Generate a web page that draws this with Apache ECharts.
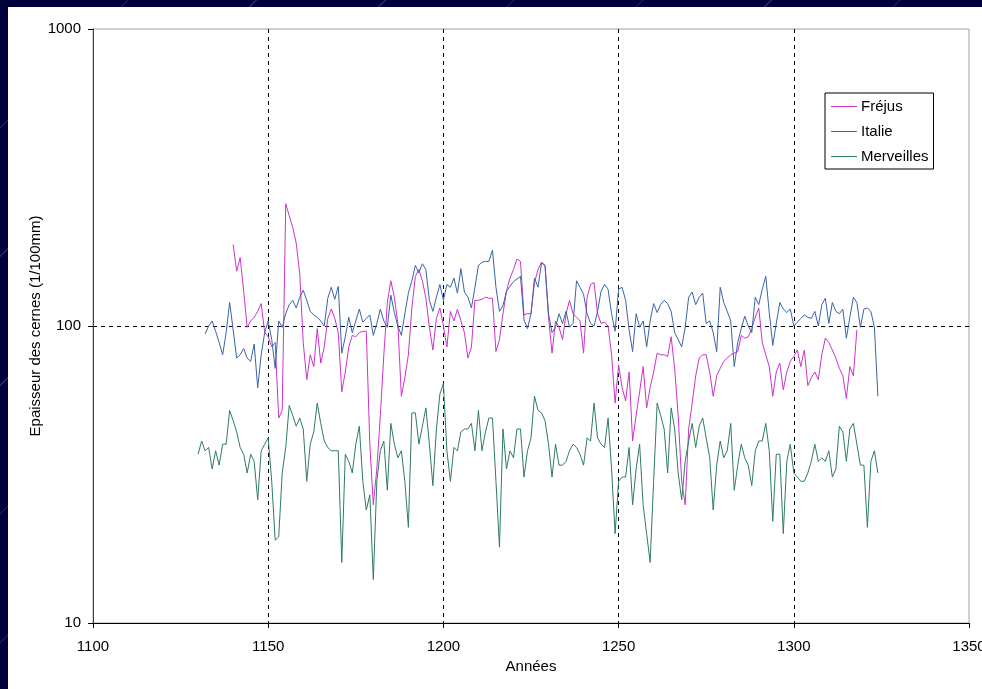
<!DOCTYPE html>
<html>
<head>
<meta charset="utf-8">
<script src="https://cdn.jsdelivr.net/npm/echarts@6/dist/echarts.min.js"></script>
<style>
html,body{margin:0;padding:0;width:100%;height:100%;overflow:hidden;}
body{background-color:#00003c;background-image:repeating-linear-gradient(135deg,rgba(0,0,0,0) 0px,rgba(0,0,0,0) 90px,rgba(90,90,170,0.45) 90px,rgba(90,90,170,0.45) 91px);}
#chart{position:absolute;left:8px;top:7px;right:0;bottom:0;background:#ffffff;}
</style>
</head>
<body>
<div id="chart"></div>
<script>
// ---- data ----
const seriesNames = ['Fréjus', 'Italie', 'Merveilles'];
const xTicks = [1100, 1150, 1200, 1250, 1300, 1350];
const yTicks = [10, 100, 1000];

const frejusStart = 1140;
const frejusValues = [
 188,153,170,131,99,104,107,112,119,95,
 92,85,88,49,52,258,235,215,190,150,
 88,66,80,73,98,75,85,106,114,106,
 95,60,70,85,93,92,95,96,96,40,
 25,33,50,80,120,142,125,102,58,67,
 80,115,147,155,142,124,99,83,106,115,
 100,85,112,104,114,104,95,78,85,122,
 122,123,125,124,124,82,90,110,131,145,
 155,168,165,109,110,110,140,155,164,160,
 107,81,104,99,90,110,122,110,107,104,
 81,125,138,140,110,102,103,100,80,55,
 74,62,56,70,41,50,60,73,53,62,
 70,81,80,80,79,92,72,50,30,25,
 45,55,68,78,80,80,70,58,68,72,
 76,78,80,81,82,93,91,92,98,107,
 115,88,80,73,58,70,75,61,70,76,
 79,83,73,83,63,67,70,66,80,91,
 88,83,78,72,68,57,73,68,97
];

const italieStart = 1132;
const italieValues = [
 94,100,104,96,88,80,95,120,
 97,78,80,84,78,76,87,62,80,95,
 104,90,72,104,99,110,118,122,115,125,
 132,122,112,109,107,104,100,124,135,123,
 136,81,92,107,95,104,114,103,106,109,
 93,102,114,104,99,127,111,100,93,110,
 129,142,160,151,162,155,122,112,125,138,
 122,138,135,145,129,156,130,125,115,135,
 160,164,165,165,180,135,112,117,131,136,
 141,144,147,105,98,110,145,135,163,160,
 110,95,99,110,102,112,99,102,142,135,
 128,110,102,100,112,131,138,133,110,96,
 133,135,122,97,82,110,99,104,85,104,
 119,111,118,122,119,112,95,90,85,99,
 125,130,118,125,129,102,104,95,82,135,
 120,112,104,73,88,98,108,100,95,125,
 118,133,147,111,86,102,120,114,111,114,
 100,103,106,109,107,106,112,100,118,124,
 102,120,112,110,114,91,107,125,120,99,
 114,115,112,99,58
];

const merveillesStart = 1130;
const merveillesValues = [
 37,41,38,39,33,38,34,40,40,52,
 48,44,39,37,32,37,35,26,38,40,
 42,30,19,19.5,32,39,54,50,46,49,
 45,30,40,44,55,47,41,39,38,38,
 38,16,37,35,32,40,46,30,24,27,
 14,30,38,41,28,47,40,36,38,30,
 21,51,51,40,46,53,40,29,45,59,
 64,38,30,39,38,44,45,45,47,38,
 52,38,44,49,49,30,18,45,33,38,
 36,45,45,31,38,42,58,52,51,48,
 40,31,40,34,34,35,38,40,39,37,
 34,42,41,55,42,40,39,49,33,20,
 30,31,31,39,25,33,40,25,20,16,
 30,55,50,45,32,53,45,32,26,35,
 41,47,39,46,49,42,36,24,34,41,
 36,38,47,28,34,40,36,34,29,38,
 41,41,47,38,22,37,37,20,35,40,
 32,31,30,30,32,35,40,35,36,35,
 38,31,33,46,44,35,45,47,40,34,
 34,21,35,38,32
];

const seriesColors = ['#cc33cc', '#3b64a6', '#2f7d5e'];

function toPairs(start, vals) {
  return vals.map(function (v, i) { return [start + i, v]; });
}

const el = document.getElementById('chart');
const chart = echarts.init(el, null, { renderer: 'canvas' });
const W = el.clientWidth, H = el.clientHeight;
// plot frame in page coords: left 93, top 29, right 969, bottom 623 (div at 8,7)
const gridRight = Math.max(0, (8 + W) - 969);
const gridBottom = Math.max(0, (7 + H) - 623);
const font = 'Liberation Sans, Arial, sans-serif';
const fs = 15;

const option = {
  backgroundColor: '#ffffff',
  animation: false,
  textStyle: { fontFamily: font },
  grid: {
    left: 85, right: gridRight, top: 22, bottom: gridBottom,
    containLabel: false,
    outerBoundsMode: 'none',
    show: true, borderColor: '#a0a0a0', borderWidth: 1, backgroundColor: '#ffffff'
  },
  legend: {
    orient: 'vertical',
    left: 817, top: 86,
    data: seriesNames,
    icon: 'rect',
    backgroundColor: '#ffffff',
    borderColor: '#000000',
    borderWidth: 1,
    borderRadius: 0,
    padding: [6, 5, 5, 6],
    itemWidth: 26,
    itemHeight: 1,
    itemGap: 10,
    textStyle: { fontFamily: font, fontSize: fs, color: '#000', padding: [0, 0, 0, -1] }
  },
  xAxis: {
    type: 'value',
    min: 1100, max: 1350, interval: 50,
    name: 'Années',
    nameLocation: 'middle',
    nameGap: 36,
    nameMoveOverlap: false,
    nameTextStyle: { fontFamily: font, fontSize: fs, color: '#000' },
    axisLine: { show: true, lineStyle: { color: '#000', width: 1 } },
    axisTick: { show: true, inside: false, length: 5, lineStyle: { color: '#000' } },
    axisLabel: { margin: 16, fontFamily: font, fontSize: fs, color: '#000',
      showMinLabel: true, showMaxLabel: true, hideOverlap: false,
      formatter: function (v) { return String(v); } },
    splitLine: { show: true, showMinLine: false, showMaxLine: false,
      lineStyle: { color: '#000', type: [4, 4], width: 1 } }
  },
  yAxis: {
    type: 'log',
    logBase: 10,
    min: 10, max: 1000,
    name: 'Epaisseur des cernes (1/100mm)',
    nameLocation: 'middle',
    nameRotate: 90,
    nameGap: 50,
    nameMoveOverlap: false,
    nameTextStyle: { fontFamily: font, fontSize: fs, color: '#000' },
    axisLine: { show: true, lineStyle: { color: '#404040', width: 1 } },
    axisTick: { show: true, inside: false, length: 5, lineStyle: { color: '#000' } },
    axisLabel: { margin: 12, fontFamily: font, fontSize: fs, color: '#000',
      formatter: function (v) { return yTicks.indexOf(Math.round(v)) >= 0 ? String(Math.round(v)) : ''; } },
    minorTick: { show: false },
    splitLine: { show: true, showMinLine: false, showMaxLine: false,
      lineStyle: { color: '#000', type: [4, 4], width: 1 } }
  },
  series: [
    { name: seriesNames[0], type: 'line', data: toPairs(frejusStart, frejusValues),
      symbol: 'none', showSymbol: false, color: seriesColors[0],
      lineStyle: { width: 1, color: seriesColors[0] }, z: 3 },
    { name: seriesNames[1], type: 'line', data: toPairs(italieStart, italieValues),
      symbol: 'none', showSymbol: false, color: seriesColors[1],
      lineStyle: { width: 1, color: seriesColors[1] }, z: 4 },
    { name: seriesNames[2], type: 'line', data: toPairs(merveillesStart, merveillesValues),
      symbol: 'none', showSymbol: false, color: seriesColors[2],
      lineStyle: { width: 1, color: seriesColors[2] }, z: 3 }
  ]
};
chart.setOption(option);
</script>
</body>
</html>
